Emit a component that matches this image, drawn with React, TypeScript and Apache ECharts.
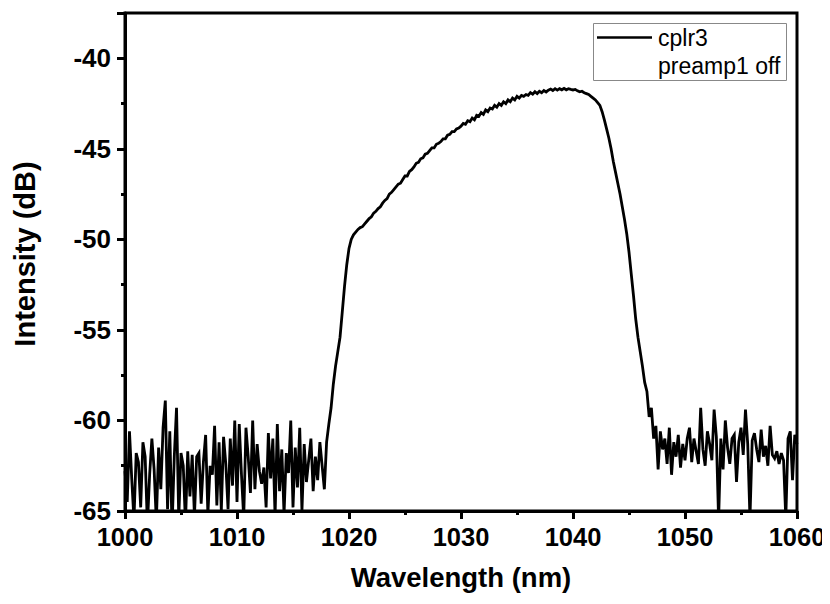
import React, { useEffect, useRef } from "react";
import * as echarts from "echarts";

// Sampling grid of the spectrum (nm)
const WL_START = 1000;
const WL_STEP = 0.2;

// Intensity (dB), one row = 2 nm (10 samples), starting at 1000.0 nm
const intensity: number[] = [
  -62.8, -64.5, -60.6, -63.2, -65.5, -61.8, -62.3, -64.8, -61.2, -62.0,
  -65.8, -63.0, -61.0, -62.7, -65.6, -61.5, -63.8, -60.4, -58.9, -64.9,
  -60.6, -66.0, -62.0, -59.3, -65.4, -61.8, -62.5, -65.7, -61.7, -64.2,
  -61.9, -65.3, -62.0, -61.8, -64.6, -62.3, -60.8, -65.2, -62.5, -63.0,
  -60.3, -64.7, -61.2, -65.0, -60.9, -62.4, -64.9, -61.0, -63.6, -60.0,
  -64.5, -60.2, -63.0, -65.4, -60.4, -62.0, -64.0, -60.0, -63.8, -61.3,
  -62.8, -63.5, -62.6, -64.8, -60.7, -63.2, -61.0, -65.3, -60.2, -63.9,
  -61.6, -65.2, -61.8, -62.9, -60.0, -64.8, -61.5, -63.7, -60.4, -65.0,
  -61.3, -63.4, -62.2, -61.0, -63.9, -62.0, -63.3, -61.2, -62.5, -63.8,
  -61.2, -60.2, -59.3, -58.0, -57.0, -56.2, -55.4, -54.0, -52.6, -51.4,
  -50.5, -50.0, -49.75, -49.6, -49.45, -49.35, -49.3, -49.15, -49.0, -48.85,
  -48.75, -48.55, -48.45, -48.3, -48.2, -48.0, -47.85, -47.75, -47.5, -47.4,
  -47.25, -47.1, -46.95, -46.9, -46.7, -46.5, -46.5, -46.25, -46.15, -46.0,
  -45.8, -45.75, -45.55, -45.5, -45.3, -45.25, -45.1, -44.95, -44.95, -44.75,
  -44.7, -44.6, -44.45, -44.45, -44.25, -44.2, -44.05, -44.05, -43.9, -43.85,
  -43.75, -43.6, -43.65, -43.45, -43.5, -43.3, -43.4, -43.15, -43.2, -43.0,
  -43.1, -42.85, -42.95, -42.75, -42.8, -42.6, -42.7, -42.5, -42.6, -42.4,
  -42.5, -42.3, -42.4, -42.2, -42.3, -42.1, -42.2, -42.05, -42.1, -42.0,
  -42.05, -41.9, -41.98, -41.85, -41.95, -41.82, -41.9, -41.78, -41.86, -41.76,
  -41.7, -41.78, -41.68, -41.76, -41.68, -41.74, -41.66, -41.74, -41.68, -41.72,
  -41.75, -41.72, -41.8, -41.85, -41.82, -41.9, -41.95, -42.0, -42.1, -42.2,
  -42.3, -42.45, -42.6, -42.95, -43.4, -43.9, -44.4, -45.0, -45.7, -46.3,
  -46.9, -47.5, -48.2, -48.9, -49.7, -50.7, -51.9, -53.1, -54.4, -55.4,
  -56.2, -57.0, -57.9, -58.4, -59.8, -59.3, -61.0, -60.3, -62.7, -60.6,
  -61.6, -61.0, -62.4, -60.4, -63.0, -61.2, -62.0, -60.8, -62.6, -61.3,
  -62.2, -61.0, -60.4, -62.3, -61.0, -61.7, -62.4, -59.3, -61.6, -62.5,
  -60.6, -61.3, -62.2, -59.4, -60.9, -65.5, -61.0, -62.7, -60.0, -61.5,
  -62.4, -61.0, -60.8, -63.4, -61.2, -60.4, -61.9, -59.4, -61.3, -65.4,
  -61.1, -60.7, -61.6, -62.3, -60.5, -62.0, -61.4, -62.5, -60.3, -61.9,
  -62.1, -61.7, -62.4, -61.8, -62.2, -65.4, -61.0, -60.6, -63.3, -60.8,
  -61.3,
];

const SERIES_NAME = "cplr3";
const LEGEND_LINE2 = "preamp1 off";
const X_TITLE = "Wavelength (nm)";
const Y_TITLE = "Intensity (dB)";

export default function App() {
  const ref = useRef<HTMLDivElement>(null);

  useEffect(() => {
    if (!ref.current) return;
    const chart = echarts.init(ref.current, undefined, { renderer: "svg" });
    const data = intensity.map((v, i) => [
      +(WL_START + i * WL_STEP).toFixed(2),
      v,
    ]);
    const font = "Arial, 'Liberation Sans', Helvetica, sans-serif";
    chart.setOption({
      animation: false,
      backgroundColor: "#fff",
      textStyle: { fontFamily: font },
      grid: {
        left: 125,
        right: 33,
        top: 13,
        bottom: 93,
        show: true,
        borderColor: "#000",
        borderWidth: 3,
        backgroundColor: "transparent",
      },
      xAxis: {
        type: "value",
        min: 1000,
        max: 1060,
        interval: 10,
        name: X_TITLE,
        nameLocation: "middle",
        nameGap: 52,
        nameTextStyle: {
          fontSize: 27.5,
          fontWeight: "bold",
          color: "#000",
          fontFamily: font,
        },
        axisLine: { show: true, onZero: false, lineStyle: { color: "#000", width: 3 } },
        axisTick: { show: true, inside: false, length: 8, lineStyle: { width: 3, color: "#000" } },
        minorTick: { show: true, splitNumber: 2, length: 4, lineStyle: { width: 3, color: "#000" } },
        axisLabel: {
          margin: 13,
          fontSize: 25.5,
          fontWeight: "bold",
          color: "#000",
          fontFamily: font,
          formatter: (v: number) => String(v),
        },
        splitLine: { show: false },
      },
      yAxis: {
        type: "value",
        min: -65,
        max: -37.5,
        interval: 5,
        name: Y_TITLE,
        nameLocation: "middle",
        nameGap: 86,
        nameTextStyle: {
          fontSize: 29,
          fontWeight: "bold",
          color: "#000",
          fontFamily: font,
          padding: [0, 0, 0, 16],
        },
        axisLine: { show: true, onZero: false, lineStyle: { color: "#000", width: 3 } },
        axisTick: { show: true, inside: false, length: 8, lineStyle: { width: 3, color: "#000" } },
        minorTick: { show: true, splitNumber: 2, length: 4, lineStyle: { width: 3, color: "#000" } },
        axisLabel: {
          margin: 14,
          fontSize: 26,
          fontWeight: "bold",
          color: "#000",
          fontFamily: font,
          showMaxLabel: false,
          formatter: (v: number) => String(v),
        },
        splitLine: { show: false },
      },
      series: [
        {
          name: SERIES_NAME,
          type: "line",
          data,
          showSymbol: false,
          symbol: "none",
          clip: true,
          lineStyle: { color: "#000", width: 2.8, join: "miter" },
        },
      ],
      graphic: [
        {
          type: "rect",
          shape: { x: 593.5, y: 23.5, width: 193, height: 57 },
          style: { fill: "#fff", stroke: "#888", lineWidth: 1 },
          z: 100,
        },
        {
          type: "line",
          shape: { x1: 597, y1: 37.5, x2: 652, y2: 37.5 },
          style: { stroke: "#000", lineWidth: 2.5 },
          z: 101,
        },
        {
          type: "text",
          x: 658,
          y: 38,
          style: {
            text: SERIES_NAME,
            fontSize: 23,
            fontFamily: font,
            fill: "#000",
            verticalAlign: "middle",
            align: "left",
          },
          z: 101,
        },
        {
          type: "text",
          x: 658,
          y: 66,
          style: {
            text: LEGEND_LINE2,
            fontSize: 23,
            fontFamily: font,
            fill: "#000",
            verticalAlign: "middle",
            align: "left",
          },
          z: 101,
        },
      ],
    });
    return () => chart.dispose();
  }, []);

  return <div ref={ref} style={{ width: 830, height: 604, marginLeft: -8, marginTop: -8 }} />;
}
